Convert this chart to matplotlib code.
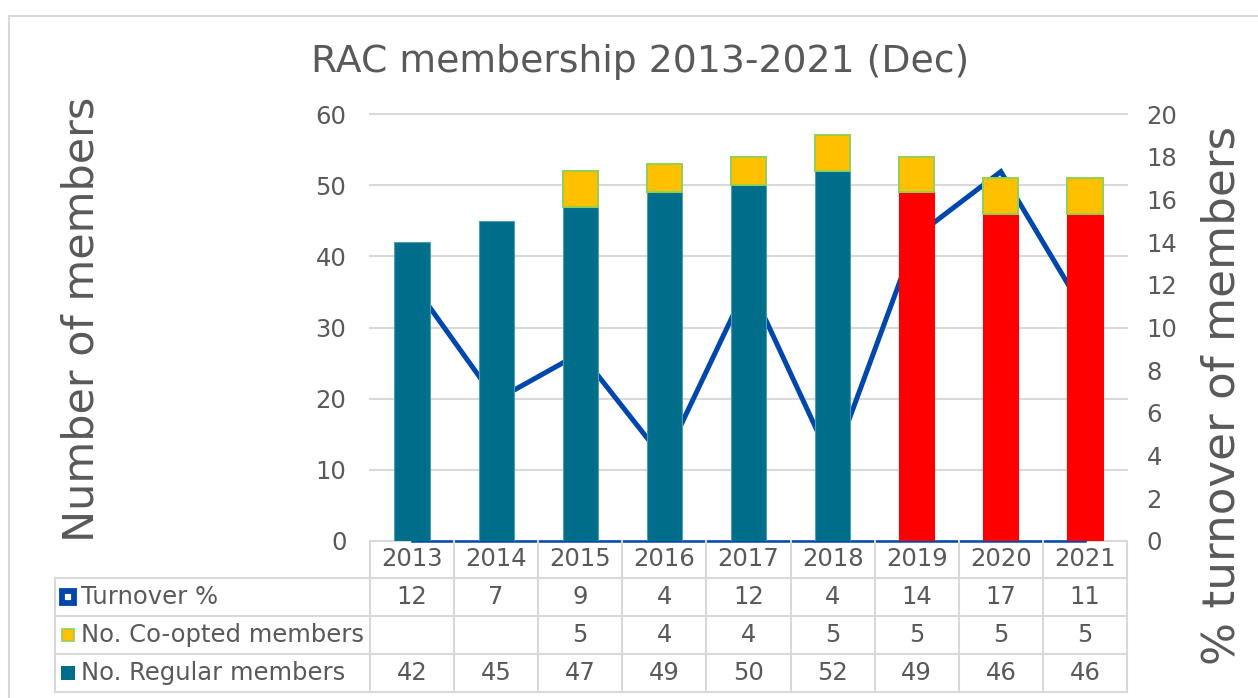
import matplotlib.pyplot as plt
import matplotlib.transforms as mtransforms
import numpy as np

# chart data
years = ['2013', '2014', '2015', '2016', '2017', '2018', '2019', '2020', '2021']
regular = [42, 45, 47, 49, 50, 52, 49, 46, 46]
coopted = [np.nan, np.nan, 5, 4, 4, 5, 5, 5, 5]
turnover = [12.1, 6.6, 8.8, 3.8, 12.1, 3.6, 14.3, 17.3, 10.7]
row_labels = ['Turnover %', 'No. Co-opted members', 'No. Regular members']

TEAL = '#006E8A'
RED = '#FF0000'
GOLD = '#FFC000'
GREEN = '#92D050'
BLUE = '#0047AB'
GRID = '#D9D9D9'
TXT = '#595959'

plt.rcParams['font.family'] = 'DejaVu Sans'

W, H = 1258, 698
fig = plt.figure(figsize=(W / 100, H / 100), dpi=100)
# pixel coordinates, measured from the top-left corner
px = mtransforms.Affine2D().scale(1 / W, -1 / H).translate(0, 1) + fig.transFigure

L, R, T, B = 370, 1127, 114, 541
ax = fig.add_axes([L / W, 1 - B / H, (R - L) / W, (B - T) / H])
ax2 = ax.twinx()
ax.set_zorder(ax2.get_zorder() + 1)
ax.patch.set_visible(False)

x = np.arange(len(years))
bar_colors = [TEAL if int(y) < 2019 else RED for y in years]
edge_colors = ['#4F9DB3' if int(y) < 2019 else RED for y in years]
ax.bar(x, regular, width=0.42, color=bar_colors, edgecolor=edge_colors, linewidth=0.8)
ax.bar(x, coopted, bottom=regular, width=0.42, color=GOLD, edgecolor=GREEN, linewidth=1.4)

ax.set_xlim(-0.5, len(years) - 0.5)
ax.set_ylim(0, 60)
ax.set_yticks(range(0, 61, 10))
ax.set_xticks([])
ax2.set_ylim(0, 20)
ax2.set_yticks(range(0, 21, 2))

for a in (ax, ax2):
    for s in a.spines.values():
        s.set_visible(False)
ax.tick_params(axis='y', length=0, labelsize=17.5, labelcolor=TXT, pad=17)
ax2.tick_params(axis='y', length=0, labelsize=17.5, labelcolor=TXT, pad=14)

# gridlines follow the left axis but sit under the line
gt = mtransforms.blended_transform_factory(ax2.transAxes, ax.transData)
for v in ax.get_yticks():
    ax2.plot([0, 1], [v, v], transform=gt, color=GRID, lw=1.5, zorder=0, clip_on=False)

ax2.plot(x, turnover, color=BLUE, lw=3.6, zorder=2, solid_joinstyle='miter')
ax2.plot([x[0], x[-1]], [0, 0], color=BLUE, lw=1.8, zorder=3, clip_on=False)

# data table under the plot
tb = mtransforms.blended_transform_factory(ax.transData, px)
row_y = [578, 616, 654, 692]
for b in np.arange(len(years) + 1) - 0.5:
    ax.plot([b, b], [B, row_y[-1]], transform=tb, color=GRID, lw=1.5, clip_on=False)
ax.plot([55, 55], [row_y[0], row_y[-1]], transform=px, color=GRID, lw=1.5, clip_on=False)
for yy in row_y:
    ax.plot([55, R], [yy, yy], transform=px, color=GRID, lw=1.5, clip_on=False)

fs = 17.5
for i, yr in enumerate(years):
    ax.text(i, 559, yr, transform=tb, ha='center', va='center', fontsize=fs, color=TXT)
    ax.text(i, 597, f'{turnover[i]:.0f}', transform=tb, ha='center', va='center', fontsize=fs, color=TXT)
    c = '' if np.isnan(coopted[i]) else f'{coopted[i]:.0f}'
    ax.text(i, 635, c, transform=tb, ha='center', va='center', fontsize=fs, color=TXT)
    ax.text(i, 673, f'{regular[i]}', transform=tb, ha='center', va='center', fontsize=fs, color=TXT)

label_y = [597, 635, 673]
for lab, yy in zip(row_labels, label_y):
    ax.text(81, yy, lab, transform=px, ha='left', va='center', fontsize=fs, color=TXT)
ax.plot([68], [597], transform=px, marker='s', ms=8.5, mfc='white', mec=BLUE, mew=4.2, clip_on=False)
ax.plot([68], [635], transform=px, marker='s', ms=9, mfc=GOLD, mec=GREEN, mew=1.2, clip_on=False)
ax.plot([68], [673], transform=px, marker='s', ms=10, mfc=TEAL, mec=TEAL, mew=0, clip_on=False)

# titles
fig.text(640 / W, 1 - 62 / H, 'RAC membership 2013-2021 (Dec)', ha='center', va='center',
         fontsize=27.2, color=TXT)
fig.text(82 / W, 1 - 319 / H, 'Number of members', rotation=90, ha='center', va='center',
         fontsize=31, color=TXT)
fig.text(1222 / W, 1 - 395 / H, '% turnover of members', rotation=90, ha='center', va='center',
         fontsize=32.6, color=TXT)

# chart border
ax.plot([9, 9], [16, H], transform=px, color=GRID, lw=1.5, clip_on=False)
ax.plot([9, W], [16, 16], transform=px, color=GRID, lw=1.5, clip_on=False)

fig.savefig('out.png', dpi=100)
